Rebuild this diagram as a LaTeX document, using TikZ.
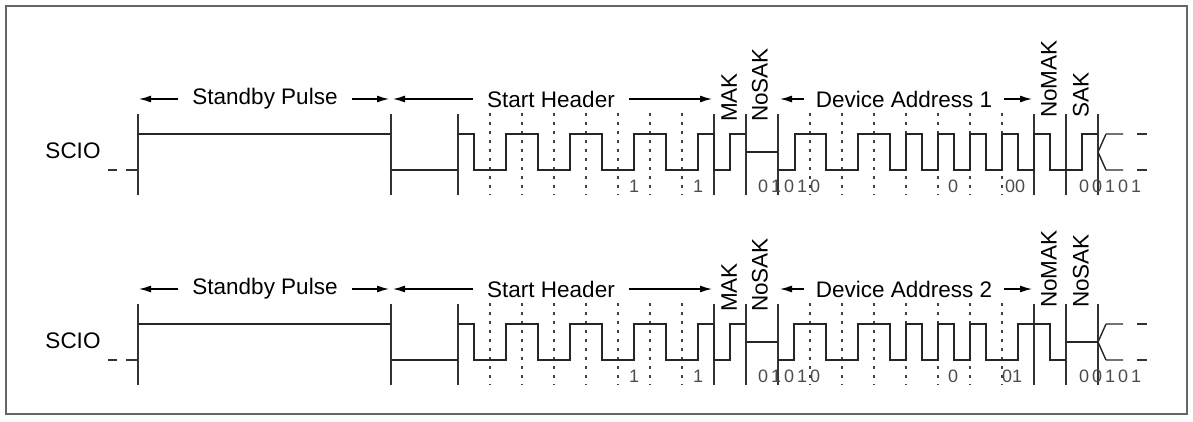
\documentclass[tikz,border=0pt]{standalone}
\usepackage{fontspec}
\setmainfont{Liberation Sans}
\usetikzlibrary{arrows.meta}
\begin{document}
\begin{tikzpicture}[x=1pt,y=-1pt,
  wave/.style={line width=1.4pt,draw=black!85},
  tickline/.style={line width=1.4pt,draw=black!80},
  dots/.style={line width=1.3pt,draw=black!75,dash pattern=on 3pt off 6pt},
  lbl/.style={font=\fontsize{22.5}{22.5}\selectfont,inner sep=0pt},
  rot/.style={font=\fontsize{22.5}{22.5}\selectfont,inner sep=0pt,rotate=90},
  bit/.style={font=\fontsize{18}{18}\selectfont,text=black!70,inner sep=0pt},
  arr/.style={-{Latex[length=12pt,width=7pt]},line width=1.3pt}]
\useasboundingbox (0,0) rectangle (1193,421);
\draw[line width=1.2pt,black!60] (6,6) rectangle (1187,414);
\foreach \r/\dy/\dev/\ack in {1/0/1/SAK,2/190/2/NoSAK}{
\begin{scope}[yshift=-\dy pt]
  \def\H{134}\def\L{170}\def\M{152}
  \node[lbl] (scio\r) at (73,151) {SCIO};
  \draw[tickline] (108,170)--(117,170) (126,170)--(138,170);
  \node[lbl] (sp\r) at (265,99) {Standby Pulse};
  \draw[arr] (sp\r.west)+(-14,0) -- (139,99);
  \draw[arr] (sp\r.east)+(14,0) -- (389,99);
  \node[lbl] (sh\r) at (551,99) {Start Header};
  \draw[arr] (sh\r.west)+(-14,0) -- (393,99);
  \draw[arr] (sh\r.east)+(14,0) -- (712,99);
  \node[lbl] (da\r) at (904,99) {Device Address \dev};
  \draw[arr] (da\r.west)+(-12,0) -- (780,99);
  \draw[arr] (da\r.east)+(12,0) -- (1032,99);
  \node[rot,anchor=south west] (mak\r) at (737,122) {MAK};
  \node[rot,anchor=south west] (nosak\r) at (768,122) {NoSAK};
  \node[rot,anchor=south west] (nomak\r) at (1057,118) {NoMAK};
  \node[rot,anchor=south west] (ack\r) at (1089,118) {\ack};
  \foreach \x in {138,391,458,714,746,778,1034,1066,1098}
    \draw[tickline] (\x,114)--(\x,195);
  \foreach \x in {490,522,554,586,618,650,682,810,842,874,906,938,970,1002}
    \draw[dots] (\x,113)--(\x,195);
  \draw[wave] (138,\H)--(391,\H);
  \draw[wave] (391,\L)--(458,\L);
  \draw[wave] (458,\H) -|(474,\L) -|(506,\H) -|(538,\L) -|(570,\H) -|(602,\L) -|(634,\H) -|(666,\L) -|(698,\H) -|(714,\L) -|(730,\H) -- (746,\H);
  \draw[wave] (746,\M)--(778,\M);
  \draw[wave] (1106,\H)--(1098,\M)--(1106,\L) (1106,\H)--(1123,\H) (1106,\L)--(1123,\L);
  \draw[tickline] (1137,\H)--(1147,\H) (1137,\L)--(1147,\L);
  \node[bit] (b1\r) at (634,186) {1};
  \node[bit] (b2\r) at (698,186) {1};
  \foreach \c [count=\i] in {0,1,0,1,0} \node[bit] at (750+13*\i,186) {\c};
  \node[bit] (b3\r) at (953,186) {0};
  \foreach \c [count=\i] in {0,0,1,0,1} \node[bit] at (1071+13*\i,186) {\c};
\end{scope}}
\draw[wave] (778,170) -|(795,134) -|(826,170) -|(858,134) -|(890,170) -|(906,134) -|(922,170) -|(938,134) -|(954,170) -|(970,134) -|(986,170) -|(1002,134) -|(1018,170) -|(1034,134) -|(1050,170) -|(1082,134) -- (1098,134);
\node[bit] (e1) at (1015,186) {00};
\draw[wave] (778,360) -|(794,324) -|(826,360) -|(858,324) -|(890,360) -|(906,324) -|(922,360) -|(938,324) -|(954,360) -|(970,324) -|(986,360) -|(1018,324) -|(1050,360) -- (1066,360);
\draw[wave] (1066,342)--(1098,342);
\node[bit] (e2) at (1012,376) {01};
\end{tikzpicture}
\end{document}
